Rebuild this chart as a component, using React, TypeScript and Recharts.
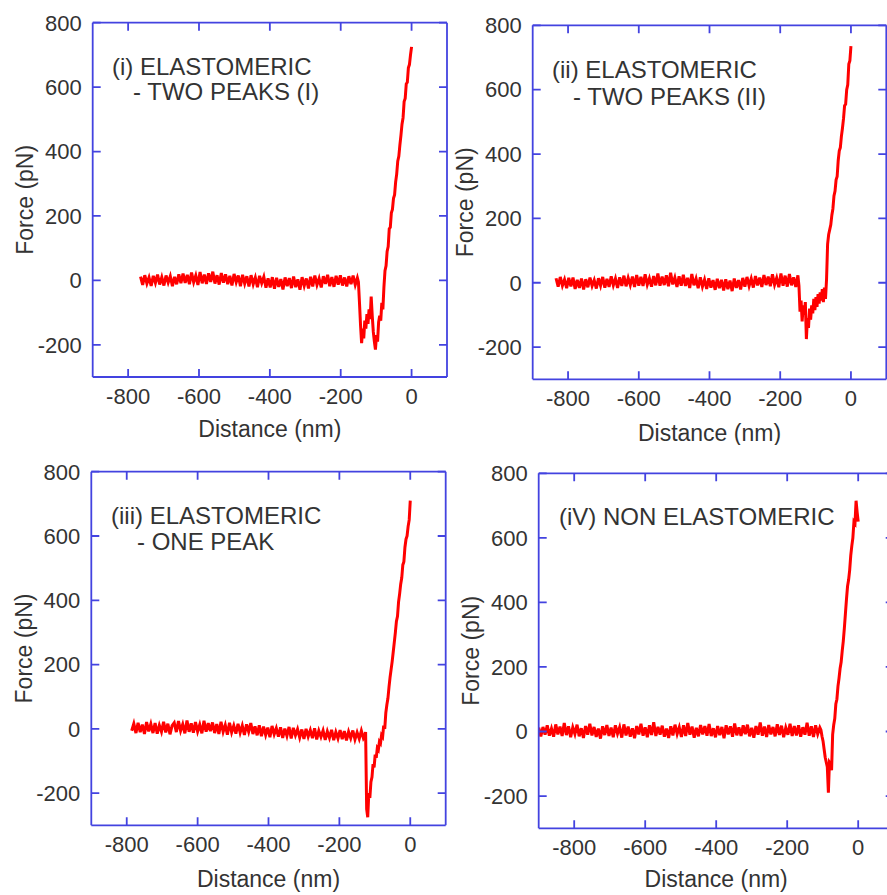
import { Line, LineChart, XAxis, YAxis } from "recharts";

const AXIS = "#4343e0";
const RED = "#ff0000";
const INK = "#333333";
const FONT = "'Liberation Sans', Arial, sans-serif";

const X_TICKS = [-800, -600, -400, -200, 0];
const Y_TICKS = [-200, 0, 200, 400, 600, 800];
const X_DOMAIN: [number, number] = [-900, 100];
const Y_DOMAIN: [number, number] = [-300, 800];

// traces are sampled every 6 nm on the flat part, every 3 nm while pulling
const FLAT_STEP = 6;
const PULL_STEP = 3;

// (i) elastomeric - two peaks (I)
const flat1Start = -765;
const flat1 = [
  12, -14, 16, -10, 9, -17, 14, -8, 18, -13,
  10, -16, 15, -7, 13, -18, 11, -12, 19, -9,
  21, -8, 17, -12, 24, -6, 15, -14, 26, -9,
  18, -11, 22, -5, 27, -10, 16, -13, 23, -7,
  19, -12, 14, -16, 20, -6, 15, -18, 17, -10,
  13, -19, 16, -12, 9, -21, 14, -9, 11, -23,
  6, -22, 10, -26, 8, -20, 4, -28, 9, -18,
  7, -24, 12, -21, 3, -29, 10, -17, 6, -25,
  11, -19, 15, -14, 6, -22, 13, -11, 17, -18,
  10, -20, 14, -13, 16, -16, 9, -19, 13, -12,
  15, -14, 8,
];
const pull1Start = -150;
const pull1 = [
  -5, -70, -140, -195, -150, -180, -125, -150, -105, -135,
  -90, -120, -50, -110, -160, -190, -215, -170, -190, -130,
  -110, -125, -70, -90, -20, 30, 45, 90, 105, 160,
  165, 210, 220, 255, 265, 305, 330, 370, 385, 420,
  450, 485, 505, 555, 565, 610, 615, 660, 670, 700,
  725,
];

// (ii) elastomeric - two peaks (II)
const flat2Start = -834;
const flat2 = [
  14, -12, 18, -9, 10, -17, 15, -11, 16, -19,
  9, -16, 13, -21, 11, -14, 16, -10, 8, -18,
  14, -9, 18, -15, 12, -13, 20, -8, 13, -16,
  17, -10, 22, -11, 15, -7, 19, -13, 24, -9,
  18, -10, 26, -6, 14, -12, 21, -8, 29, -9,
  19, -7, 23, -11, 31, -5, 16, -13, 20, -9,
  25, -10, 15, -16, 27, -8, 13, -17, 17, -12,
  10, -19, 14, -15, 8, -22, 12, -17, 9, -24,
  11, -20, 7, -26, 13, -16, 8, -21, 15, -12,
  18, -10, 13, -15, 21, -8, 16, -13, 24, -7,
  19, -11, 26, -6, 15, -14, 29, -9, 22, -12,
  27, -8, 17, -13, 23,
];
const pull2Start = -147;
const pull2 = [
  -10, -90, -55, -120, -70, -100, -60, -175, -110, -140,
  -80, -115, -70, -95, -50, -85, -45, -75, -35, -65,
  -30, -55, -20, -60, -15, -50, 10, 120, 150, 165,
  180, 210, 230, 270, 285, 320, 330, 380, 410, 420,
  455, 480, 510, 550, 555, 600, 615, 680, 690, 735,
];

// (iii) elastomeric - one peak
const flat3Start = -786;
const flat3 = [
  -6, 16, -13, 19, -10, 13, -16, 21, -8, 15,
  -13, 18, -15, 11, -9, 22, -11, 16, -17, 10,
  19, -10, 24, -6, 14, -14, 26, -9, 17, -12,
  21, -8, 13, -14, 25, -9, 18, -7, 20, -13,
  15, -16, 22, -9, 12, -18, 19, -11, 10, -15,
  16, -12, 10, -19, 14, -9, 18, -16, 8, -20,
  11, -23, 7, -19, 4, -26, 9, -17, 2, -24,
  5, -28, 1, -22, 6, -30, 3, -20, -1, -27,
  -2, -31, 0, -24, -4, -29, 2, -33, -6, -25,
  -5, -34, -8, -28, -3, -35, -10, -30, -4, -32,
  -7, -36, -9, -29, -5, -33, -11, -31, -6, -30,
];
const pull3Start = -129;
const pull3 = [
  -25, -10, -250, -275, -200, -215, -165, -150, -110, -120,
  -80, -90, -60, -65, -40, -45, -20, -25, 10, 0,
  50, 75, 95, 130, 160, 185, 210, 240, 270, 300,
  335, 350, 395, 420, 450, 470, 510, 520, 565, 590,
  600, 630, 650, 710,
];

// (iv) non elastomeric
const flat4Start = -900;
const flat4 = [
  12, -15, 14, -10, 19, -13, 9, -16, 22, -9,
  15, -14, 26, -11, 16, -18, 13, -8, 21, -15,
  10, -20, 17, -10, 24, -12, 14, -17, 9, -22,
  16, -11, 20, -14, 12, -18, 19, -7, 13, -19,
  22, -12, 15, -16, 10, -21, 17, -9, 24, -13,
  13, -18, 19, -11, 29, -14, 14, -10, 18, -16,
  9, -20, 16, -12, 21, -8, 13, -17, 19, -14,
  26, -10, 15, -19, 11, -15, 20, -9, 17, -13,
  23, -14, 10, -18, 17, -11, 14, -21, 19, -9,
  16, -16, 25, -12, 13, -14, 19, -8, 21, -15,
  11, -19, 17, -10, 28, -13, 15, -17, 20, -9,
  14, -15, 22, -11, 18, -18, 12, -10, 24, -14,
  17, -12, 19, -16, 13, -10, 27, -13, 16, -17,
  19, -8, 12,
];
const pull4Start = -105;
const pull4 = [
  5, -15, -30, -55, -80, -95, -110, -190, -95, -100,
  -120, -10, 20, 40, 85, 100, 140, 165, 195, 215,
  250, 280, 320, 365, 410, 450, 470, 500, 545, 575,
  600, 650, 645, 715, 680, 650,
];

function trace(flatStart: number, flat: number[], pullStart: number, pull: number[]) {
  return [
    ...flat.map((f, i) => ({ d: flatStart + i * FLAT_STEP, f })),
    ...pull.map((f, i) => ({ d: pullStart + i * PULL_STEP, f })),
  ];
}

type Box = { left: number; top: number; right: number; bottom: number };

const TICK = 8;
const FRAME_W = 1.8;

// bottom labels; also draws the inward tick on the bottom and top edges
function XTick(props: any) {
  const { x, y, payload, box } = props;
  return (
    <g>
      <path d={`M${x},${box.bottom}v${-TICK}M${x},${box.top}v${TICK}`} stroke={AXIS} strokeWidth={FRAME_W} fill="none" />
      <text x={x} y={y} dy="0.71em" textAnchor="middle" fill={INK} fontSize={22} fontFamily={FONT}>
        {payload.value}
      </text>
    </g>
  );
}

// left labels; also draws the inward tick on the left and right edges
function YTick(props: any) {
  const { x, y, payload, box } = props;
  return (
    <g>
      <path d={`M${box.left},${y}h${TICK}M${box.right},${y}h${-TICK}`} stroke={AXIS} strokeWidth={FRAME_W} fill="none" />
      <text x={x} y={y} dy="0.355em" textAnchor="end" fill={INK} fontSize={22} fontFamily={FONT}>
        {payload.value}
      </text>
    </g>
  );
}

type PanelProps = {
  x: number;
  y: number;
  width: number;
  height: number;
  plot: Box;
  data: { d: number; f: number }[];
  yTitleX: number;
  xTitleGap: number;
};

function Panel({ x, y, width, height, plot, data, yTitleX, xTitleGap }: PanelProps) {
  // mirrored axes only draw the blue frame
  const frame = {
    type: "number" as const,
    stroke: AXIS,
    strokeWidth: FRAME_W,
    tick: false as const,
    tickLine: false,
    mirror: true,
    allowDataOverflow: true,
  };
  return (
    <div style={{ position: "absolute", left: x, top: y }}>
      <LineChart
        width={width}
        height={height}
        data={data}
        margin={{ top: plot.top, right: width - plot.right, bottom: 0, left: 0 }}
      >
        <XAxis
          xAxisId="b"
          dataKey="d"
          type="number"
          domain={X_DOMAIN}
          ticks={X_TICKS}
          allowDataOverflow
          orientation="bottom"
          height={height - plot.bottom}
          axisLine={false}
          tickLine={false}
          tickSize={0}
          tickMargin={11}
          tick={(p: any) => <XTick {...p} box={plot} />}
          label={{
            value: "Distance (nm)",
            position: "insideTop",
            offset: xTitleGap,
            fill: INK,
            fontSize: 23,
            fontFamily: FONT,
          }}
        />
        <XAxis xAxisId="bm" domain={X_DOMAIN} ticks={X_TICKS} orientation="bottom" height={5} {...frame} />
        <XAxis xAxisId="tm" domain={X_DOMAIN} ticks={X_TICKS} orientation="top" height={5} {...frame} />
        <YAxis
          yAxisId="l"
          type="number"
          domain={Y_DOMAIN}
          ticks={Y_TICKS}
          allowDataOverflow
          width={plot.left}
          axisLine={false}
          tickLine={false}
          tickSize={0}
          tickMargin={11}
          tick={(p: any) => <YTick {...p} box={plot} />}
          label={{
            value: "Force (pN)",
            angle: -90,
            position: "insideLeft",
            offset: yTitleX,
            fill: INK,
            fontSize: 23,
            fontFamily: FONT,
            textAnchor: "middle",
            style: { textAnchor: "middle" },
          }}
        />
        <YAxis yAxisId="lm" domain={Y_DOMAIN} ticks={Y_TICKS} orientation="left" width={5} {...frame} />
        <YAxis yAxisId="rm" domain={Y_DOMAIN} ticks={Y_TICKS} orientation="right" width={5} {...frame} />
        <Line
          xAxisId="b"
          yAxisId="l"
          dataKey="f"
          type="linear"
          stroke={RED}
          strokeWidth={3}
          dot={false}
          activeDot={false}
          isAnimationActive={false}
        />
      </LineChart>
    </div>
  );
}

const notes = [
  { x: 112, y: 75, text: "(i) ELASTOMERIC" },
  { x: 133, y: 100, text: "- TWO PEAKS (I)" },
  { x: 552, y: 78, text: "(ii) ELASTOMERIC" },
  { x: 573, y: 105, text: "- TWO PEAKS (II)" },
  { x: 111, y: 524, text: "(iii) ELASTOMERIC" },
  { x: 137, y: 550, text: "- ONE PEAK" },
  { x: 559, y: 525, text: "(iV) NON ELASTOMERIC" },
];

export default function App() {
  return (
    <div
      style={{
        position: "absolute",
        left: 0,
        top: 0,
        width: 887,
        height: 895,
        overflow: "hidden",
        background: "#fff",
        fontFamily: FONT,
      }}
    >
      <Panel
        x={0}
        y={0}
        width={450}
        height={445}
        plot={{ left: 92.7, top: 22.7, right: 447, bottom: 377 }}
        data={trace(flat1Start, flat1, pull1Start, pull1)}
        yTitleX={25}
        xTitleGap={44}
      />
      <Panel
        x={450}
        y={0}
        width={437}
        height={445}
        plot={{ left: 82.7, top: 25.3, right: 436.3, bottom: 379.3 }}
        data={trace(flat2Start, flat2, pull2Start, pull2)}
        yTitleX={15}
        xTitleGap={45}
      />
      <Panel
        x={0}
        y={445}
        width={450}
        height={450}
        plot={{ left: 91.3, top: 26.7, right: 445.7, bottom: 380.3 }}
        data={trace(flat3Start, flat3, pull3Start, pull3)}
        yTitleX={23.5}
        xTitleGap={45}
      />
      <Panel
        x={450}
        y={445}
        width={450}
        height={450}
        plot={{ left: 88.7, top: 28.3, right: 443.7, bottom: 383.3 }}
        data={trace(flat4Start, flat4, pull4Start, pull4)}
        yTitleX={21}
        xTitleGap={42}
      />
      <svg
        width={887}
        height={895}
        style={{ position: "absolute", left: 0, top: 0, pointerEvents: "none" }}
      >
        {notes.map((n) => (
          <text key={n.text} x={n.x} y={n.y} fill={INK} fontSize={24} fontFamily={FONT}>
            {n.text}
          </text>
        ))}
      </svg>
    </div>
  );
}
